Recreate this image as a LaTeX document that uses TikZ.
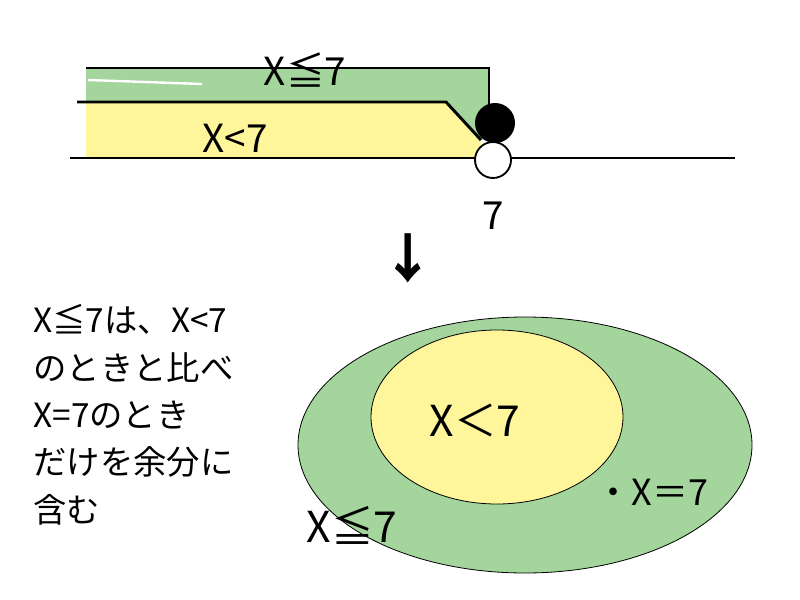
\documentclass[tikz,border=0pt]{standalone}
\usepackage{fontspec}
\setmainfont{Noto Sans CJK JP}
\definecolor{gr}{HTML}{A3D59C}
\definecolor{ye}{HTML}{FFF69B}
\begin{document}
\begin{tikzpicture}[x=0.75pt,y=-0.75pt,line width=2.2pt,
  lbl/.style={font=\fontsize{29}{32}\selectfont,inner sep=0pt},
  big/.style={font=\fontsize{32}{36}\selectfont,inner sep=0pt}]
\useasboundingbox (0,0) rectangle (800,600);
\fill[gr] (86,68) -- (489,68) -- (489,135) -- (478,142) -- (446,102) -- (86,102) -- cycle;
\fill[ye] (86,102) -- (446,102) -- (481,142) -- (481,158) -- (86,158) -- cycle;
\draw[white,line width=1.8pt] (88,80) -- (202,84);
\draw (86,68) -- (489,68) -- (489,108);
\draw (77,102) -- (446,102) -- (481,140);
\draw (70,158) -- (735,158);
\node[circle,fill=black,inner sep=0pt,minimum size=30pt] (fc) at (495,123) {};
\node[circle,draw,fill=white,line width=1.4pt,inner sep=0pt,minimum size=27pt] (oc) at (493,160) {};
\node[lbl] (t1) at (305,70) {X≦7};
\node[lbl] (t2) at (235,138) {X<7};
\node[lbl] (t3) at (493,216) {7};
\node[font=\fontsize{40}{40}\selectfont\bfseries,inner sep=0pt] (ar) at (408,258) {↓};
\node[inner sep=0pt,align=left,anchor=north west,font=\fontsize{25}{35.5}\selectfont] (txt) at (32,303)
 {X≦7は、X<7\\のときと比べ\\X=7のとき\\だけを余分に\\含む};
\draw[line width=0.6pt,fill=gr] (525,445) ellipse [x radius=227,y radius=128];
\draw[line width=0.6pt,fill=ye] (497,417) ellipse [x radius=126,y radius=87];
\node[big] (e1) at (475,420) {X＜7};
\node[inner sep=0pt,font=\fontsize{27}{30}\selectfont] (e2) at (652,492) {・X＝7};
\node[big] (e3) at (352,525) {X≦7};
\end{tikzpicture}
\end{document}
